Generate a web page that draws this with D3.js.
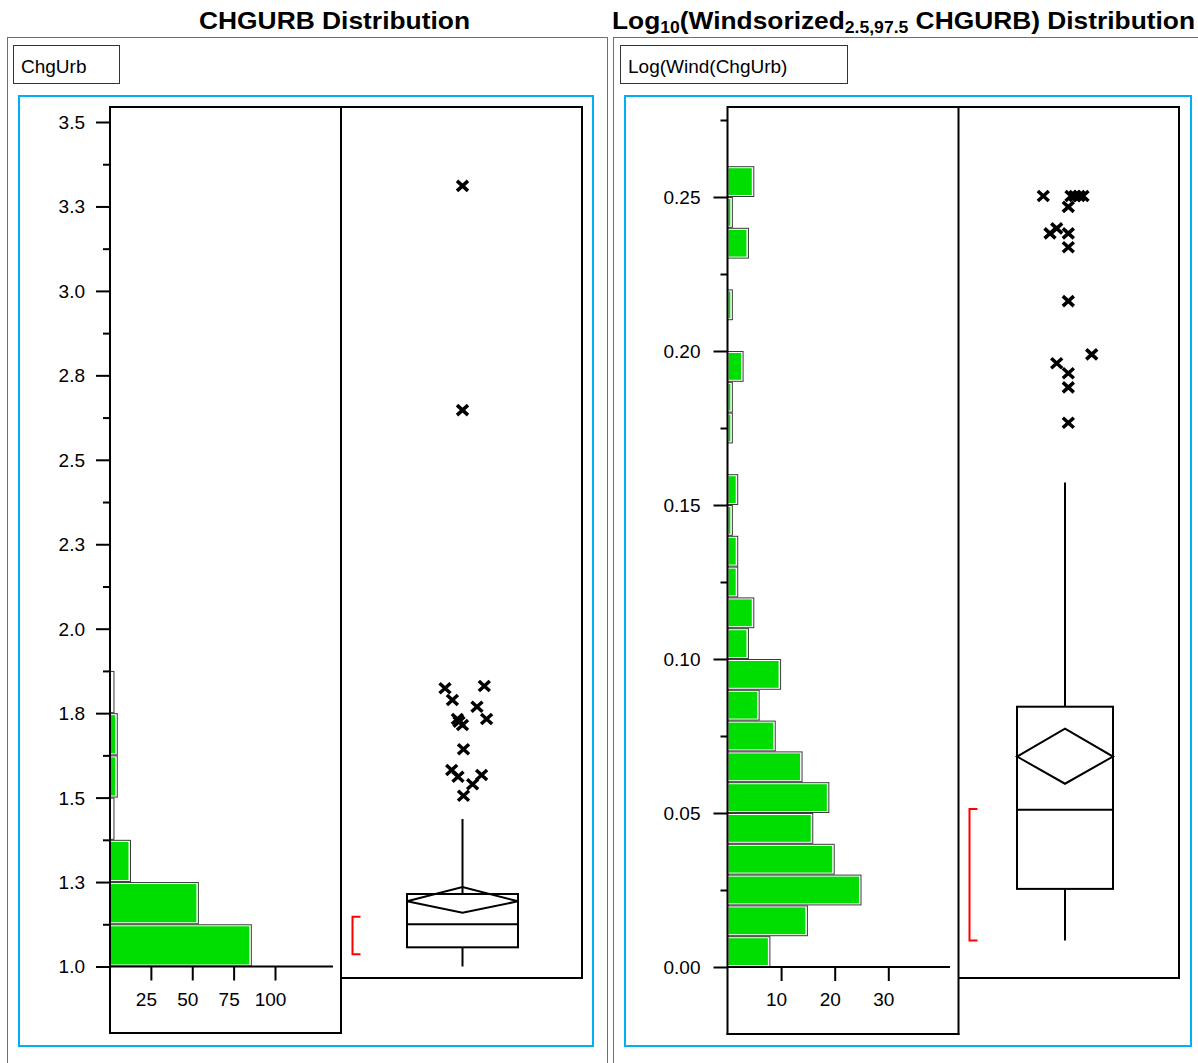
<!DOCTYPE html>
<html><head><meta charset="utf-8">
<script src="https://cdn.jsdelivr.net/npm/d3@7"></script>
<style>body{margin:0;background:#fff} svg{display:block} text{font-family:"Liberation Sans",Arial,sans-serif;fill:#000}</style>
</head><body><svg id="c" width="1198" height="1063"></svg>
<script>
// ---------------- DATA ----------------
const leftBinEdges = [1.0, 1.125, 1.25, 1.375, 1.5, 1.625, 1.75, 1.875];
const leftCounts   = [86, 54, 13, 3, 5, 5, 3];
const rightBinEdges = [0.00,0.01,0.02,0.03,0.04,0.05,0.06,0.07,0.08,0.09,0.10,0.11,0.12,0.13,
                       0.14,0.15,0.16,0.17,0.18,0.19,0.20,0.21,0.22,0.23,0.24,0.25,0.26];
const rightCounts   = [8,15,25,20,16,19,14,9,6,10,4,5,2,2,1,2,0,1,1,3,0,1,0,4,1,5];

const leftBox  = {whiskerLo:1.0, q1:1.0568, median:1.1249, q3:1.2146, whiskerHi:1.4366,
                  mean:1.193, ciLo:1.1593, ciHi:1.2353, shortLo:1.0361, shortHi:1.1474};
const rightBox = {whiskerLo:0.00864, q1:0.02536, median:0.05107, q3:0.08451, whiskerHi:0.1573,
                  mean:0.06834, ciLo:0.0595, ciHi:0.0774, shortLo:0.00864, shortHi:0.0513};

const leftOutliers = [1.8236,1.8304,1.789,1.769,1.7327,1.7327,1.715,1.7247,1.643,1.5817,1.5619,1.5669,1.5394,1.5056,2.647,3.311];
const leftJitter   = [-0.315,0.393,-0.182,0.261,-0.092,0.434,0,-0.063,0.018,-0.195,-0.081,0.344,0.182,0.018,0,0];
const rightOutliers = [0.2503,0.2503,0.2503,0.2503,0.2503,0.2468,0.2398,0.2382,0.2382,0.2337,0.2162,0.1989,0.1960,0.1928,0.1882,0.1767];
const rightJitter   = [-0.452,0.125,0.208,0.292,0.375,0.069,-0.173,-0.3125,0.069,0.069,0.069,0.556,-0.173,0.069,0.069,0.069];

const leftMajorTicks  = [1.0,1.25,1.5,1.75,2.0,2.25,2.5,2.75,3.0,3.25,3.5];
const leftTickLabels  = ["1.0","1.3","1.5","1.8","2.0","2.3","2.5","2.8","3.0","3.3","3.5"];
const leftMinorTicks  = [1.125,1.375,1.625,1.875,2.125,2.375,2.625,2.875,3.125,3.375];
const rightMajorTicks = [0.00,0.05,0.10,0.15,0.20,0.25];
const rightTickLabels = ["0.00","0.05","0.10","0.15","0.20","0.25"];
const rightMinorTicks = [0.025,0.075,0.125,0.175,0.225,0.275];
const leftCountTicks  = [25,50,75,100];
const leftCountLabels = ["25","50","75","100"];
const rightCountTicks = [10,20,30];
const rightCountLabels = ["10","20","30"];

const leftTitle = "CHGURB Distribution";
const leftLabel = "ChgUrb";
const rightLabel = "Log(Wind(ChgUrb)";

// ---------------- DRAW ----------------
const svg = d3.select("#c");
svg.append("rect").attr("width",1198).attr("height",1063).attr("fill","#fff");

// titles
svg.append("text").attr("x",334.5).attr("y",28.5).attr("text-anchor","middle")
  .attr("font-size",24).attr("font-weight","bold")
  .attr("textLength",271).attr("lengthAdjust","spacingAndGlyphs").text(leftTitle);
const rt = svg.append("text").attr("x",612).attr("y",28.5).attr("font-size",24).attr("font-weight","bold")
  .attr("textLength",583).attr("lengthAdjust","spacingAndGlyphs");
rt.append("tspan").text("Log");
rt.append("tspan").attr("font-size",16).attr("dy",4).text("10");
rt.append("tspan").attr("dy",-4).text("(Windsorized");
rt.append("tspan").attr("font-size",16).attr("dy",4).text("2.5,97.5");
rt.append("tspan").attr("dy",-4).text(" CHGURB) Distribution");

function panel(cfg, d) {
  const g = svg.append("g");
  g.append("rect").attr("x",cfg.outer[0]+0.5).attr("y",cfg.outer[1]+0.5)
    .attr("width",cfg.outer[2]-cfg.outer[0]).attr("height",cfg.outer[3]-cfg.outer[1])
    .attr("fill","none").attr("stroke","#6e6e6e").attr("stroke-width",1);
  g.append("rect").attr("x",cfg.label[0]+0.5).attr("y",cfg.label[1]+0.5)
    .attr("width",cfg.label[2]).attr("height",cfg.label[3])
    .attr("fill","#fff").attr("stroke","#333").attr("stroke-width",1);
  g.append("text").attr("x",cfg.label[0]+8).attr("y",cfg.label[1]+28).attr("font-size",19).text(d.label);
  g.append("rect").attr("x",cfg.cyan[0]).attr("y",cfg.cyan[1])
    .attr("width",cfg.cyan[2]-cfg.cyan[0]).attr("height",cfg.cyan[3]-cfg.cyan[1])
    .attr("fill","none").attr("stroke","#00b0f0").attr("stroke-width",2);

  const y  = d3.scaleLinear().domain(d.yDomain).range(cfg.yRange);
  const hx = d3.scaleLinear().domain(d.xDomain).range(cfg.xRange);
  const jx = d3.scaleLinear().domain([-1,1]).range([cfg.boxCx-cfg.boxHw, cfg.boxCx+cfg.boxHw]);

  // histogram bars
  const bins = d.counts.map((c,i)=>({lo:d.edges[i],hi:d.edges[i+1],c})).filter(b=>b.c>0);
  const bg = g.append("g");
  bins.forEach(b=>{
    const x0 = hx(0), x1 = hx(b.c), yt = y(b.hi), yb = y(b.lo);
    bg.append("rect").attr("x",x0).attr("y",yt+0.5).attr("width",Math.max(0,x1-x0-0.5))
      .attr("height",yb-yt-1).attr("fill","#fff").attr("stroke","#3a3a3a").attr("stroke-width",1);
    const gw = x1-x0-3.5;
    if (gw >= 1.5) bg.append("rect").attr("x",x0+1).attr("y",yt+2).attr("width",gw)
      .attr("height",yb-yt-4).attr("fill","#00dd00");
  });

  // frames
  const L = cfg.hLeft, T = cfg.top, D = cfg.divider, R = cfg.boxRight, BB = cfg.boxBottom, HB = cfg.histBottom;
  const line = (x1,y1,x2,y2)=>g.append("line").attr("x1",x1).attr("y1",y1).attr("x2",x2).attr("y2",y2)
      .attr("stroke","#000").attr("stroke-width",2);
  line(L,T,R,T); line(L,T-1,L,HB+1); line(L-1,HB,D+1,HB); line(D,T-1,D,HB+1);
  line(R,T-1,R,BB+1); line(D,BB,R+1,BB);

  // y axis minor
  const ym = g.append("g").attr("transform",`translate(${L},0)`)
    .call(d3.axisLeft(y).tickValues(d.minor).tickSize(7).tickFormat(""));
  ym.select(".domain").remove();
  ym.selectAll("line").attr("stroke","#000").attr("stroke-width",2);
  const yM = g.append("g").attr("transform",`translate(${L},0)`)
    .call(d3.axisLeft(y).tickValues(d.major).tickSize(14).tickPadding(cfg.yPad)
      .tickFormat((v,i)=>d.majorLabels[i]));
  yM.select(".domain").remove();
  yM.selectAll("line").attr("stroke","#000").attr("stroke-width",2);
  yM.selectAll("text").attr("font-size",19).attr("font-family",null).attr("fill","#000").attr("dy","0.34em");

  // count axis
  const y0 = y(d.yDomain[0]);
  line(L, y0, cfg.xAxisEnd, y0);
  const xa = g.append("g").attr("transform",`translate(0,${y0})`)
    .call(d3.axisBottom(hx).tickValues(d.countTicks).tickSize(14).tickFormat((v,i)=>d.countLabels[i]));
  xa.select(".domain").remove();
  xa.selectAll("line").attr("stroke","#000").attr("stroke-width",2);
  xa.selectAll("text").attr("font-size",19).attr("font-family",null).attr("fill","#000")
    .attr("x",-5).attr("y",26).attr("dy","0.71em");

  // box plot
  const s = d.box, cx = cfg.boxCx, hw = cfg.boxHw;
  const bp = g.append("g").attr("stroke","#000").attr("stroke-width",2).attr("fill","none");
  bp.append("line").attr("x1",cx).attr("x2",cx).attr("y1",y(s.whiskerHi)).attr("y2",y(s.q3));
  bp.append("line").attr("x1",cx).attr("x2",cx).attr("y1",y(s.q1)).attr("y2",y(s.whiskerLo));
  bp.append("rect").attr("x",cx-hw).attr("y",y(s.q3)).attr("width",2*hw).attr("height",y(s.q1)-y(s.q3));
  bp.append("line").attr("x1",cx-hw).attr("x2",cx+hw).attr("y1",y(s.median)).attr("y2",y(s.median));
  bp.append("path").attr("d",`M${cx-hw},${y(s.mean)}L${cx},${y(s.ciHi)}L${cx+hw},${y(s.mean)}L${cx},${y(s.ciLo)}Z`);
  g.append("path").attr("d",`M${cfg.bracketX+8},${y(s.shortHi)}H${cfg.bracketX}V${y(s.shortLo)}H${cfg.bracketX+8}`)
    .attr("fill","none").attr("stroke","#ff0000").attr("stroke-width",2);

  // outliers
  g.append("g").selectAll("path").data(d.outliers).join("path")
    .attr("transform",(v,i)=>`translate(${jx(d.jitter[i])},${y(v)})`)
    .attr("d","M-5.5,-5L5.5,5M-5.5,5L5.5,-5")
    .attr("stroke","#000").attr("stroke-width",3.5).attr("fill","none");
}

panel({outer:[7,37,607,1080], label:[13,45,106,38], cyan:[19,96,593,1046],
       yRange:[966.5,122], xRange:[109.5,275], hLeft:110, top:107, divider:341, boxRight:582,
       boxBottom:978, histBottom:1033, xAxisEnd:333, yPad:11, boxCx:462.5, boxHw:55.5, bracketX:352.5},
  {label:leftLabel, yDomain:[1.0,3.5], xDomain:[0,100], edges:leftBinEdges, counts:leftCounts,
   major:leftMajorTicks, majorLabels:leftTickLabels, minor:leftMinorTicks,
   countTicks:leftCountTicks, countLabels:leftCountLabels, box:leftBox,
   outliers:leftOutliers, jitter:leftJitter});

panel({outer:[613,37,1220,1080], label:[620,45,227,38], cyan:[625,96,1191,1046],
       yRange:[967,197], xRange:[727.5,888.3], hLeft:727.5, top:107, divider:958.5, boxRight:1179,
       boxBottom:978, histBottom:1034, xAxisEnd:950, yPad:13, boxCx:1065, boxHw:48, bracketX:969.5},
  {label:rightLabel, yDomain:[0,0.25], xDomain:[0,30], edges:rightBinEdges, counts:rightCounts,
   major:rightMajorTicks, majorLabels:rightTickLabels, minor:rightMinorTicks,
   countTicks:rightCountTicks, countLabels:rightCountLabels, box:rightBox,
   outliers:rightOutliers, jitter:rightJitter});
</script></body></html>
